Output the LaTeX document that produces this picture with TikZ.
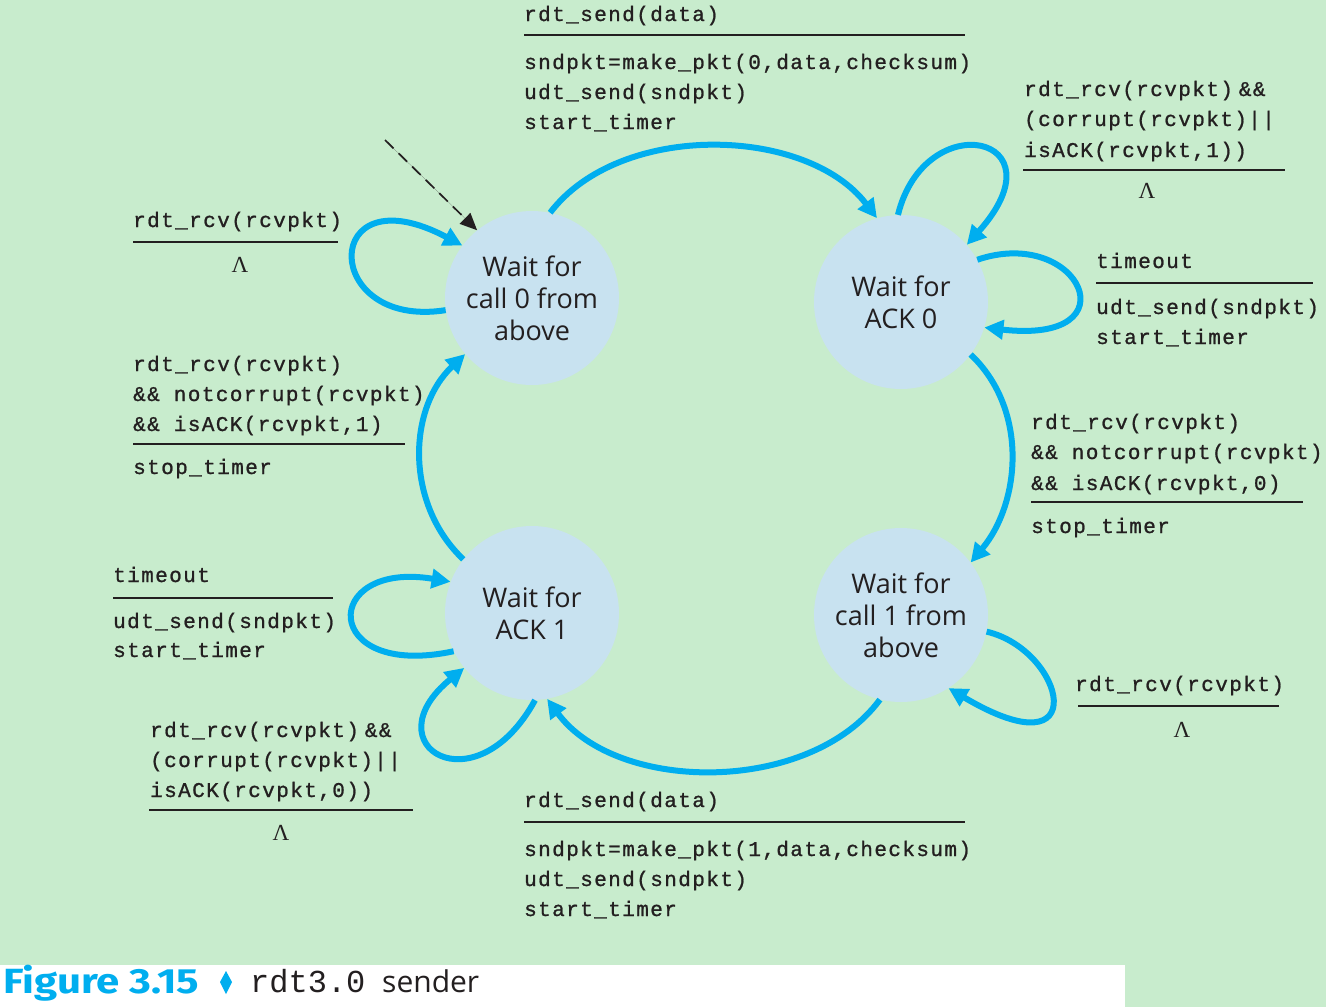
\documentclass[tikz,border=0pt]{standalone}
\usepackage{fontspec}
\setmainfont{Open Sans}
\newfontfamily\cmono[FakeBold=1,LetterSpace=6.7]{Liberation Mono}
\newfontfamily\capmono{Liberation Mono}
\newfontfamily\capsans[FakeStretch=1.2]{Fira Sans}
\newfontfamily\lamfont{Liberation Serif}
\usetikzlibrary{arrows.meta}
\definecolor{bg}{RGB}{200,236,205}
\definecolor{stfill}{RGB}{200,226,240}
\definecolor{arr}{RGB}{0,174,239}
\definecolor{ink}{RGB}{35,31,32}
\tikzset{
  state/.style={circle, fill=stfill, minimum size=174pt, inner sep=0pt, align=center,
    font=\fontsize{27}{32}\selectfont, text=ink},
  mono/.style={anchor=base west, inner sep=0pt, font=\cmono\fontsize{21}{30}\selectfont, text=ink},
  lam/.style={inner sep=0pt, font=\lamfont\fontsize{23}{23}\selectfont, text=ink},
  trans/.style={draw=arr, line width=6pt, -{Triangle[length=19pt,width=19pt]}},
  rulel/.style={draw=ink, line width=2pt},
}
\begin{document}
\begin{tikzpicture}[x=1pt,y=-1pt]
\fill[bg] (0,0) rectangle (1326,1007);
\useasboundingbox (0,0) rectangle (1326,1007);
\fill[white] (0,965) rectangle (1125,1007);

% states
\node[state] (s0) at (532,298) {Wait for\\call 0 from\\above};
\node[state] (a0) at (901,302) {Wait for\\ACK 0};
\node[state] (a1) at (532,613) {Wait for\\ACK 1};
\node[state] (s1) at (901,615) {Wait for\\call 1 from\\above};

% initial arrow
\coordinate (init) at (385,140);
\draw[draw=ink, fill=ink, line width=1.7pt, dash pattern=on 12pt off 7pt,
  -{Triangle[length=17pt,width=15pt]}] (init) -- (s0.129);

% main transitions
\draw[trans] (s0.78) .. controls +(70,-92) and +(-70,-92) .. (a0.106);
\draw[trans] (a0.-37) .. controls +(58,55) and +(50,-60) .. (s1.37);
\draw[trans] (s1.-104) .. controls +(-70,95) and +(70,95) .. (a1.-80);
\draw[trans] (a1.142) .. controls +(-58,-55) and +(-58,55) .. (s0.-140);

% self loops
\draw[trans] (s0.-172) .. controls (320,330) and (320,170) .. (s0.143);
\draw[trans] (a0.92) .. controls (925,105) and (1065,135) .. (a0.41);
\draw[trans] (a0.29) .. controls (1080,225) and (1135,345) .. (a0.-17);
\draw[trans] (a1.-154) .. controls (320,680) and (320,560) .. (a1.159);
\draw[trans] (a1.-88) .. controls (475,810) and (370,745) .. (a1.-141);
\draw[trans] (s1.-11) .. controls (1065,650) and (1095,775) .. (s1.-57);

% top label
\node[mono] (t1) at (524,21) {rdt\_send(data)};
\draw[rulel] (524,35) -- (965,35);
\node[mono] (t2) at (524,69) {sndpkt=make\_pkt(0,data,checksum)};
\node[mono] (t3) at (524,99) {udt\_send(sndpkt)};
\node[mono] (t4) at (524,129) {start\_timer};

% top right label
\node[mono] (tr1) at (1024,96) {rdt\_rcv(rcvpkt)\hspace{6pt}\&\&};
\node[mono] (tr2) at (1024,126) {(corrupt(rcvpkt)||};
\node[mono] (tr3) at (1024,157) {isACK(rcvpkt,1))};
\draw[rulel] (1023,170) -- (1285,170);
\node[lam] (trl) at (1147,191) {Λ};

% top left label
\node[mono] (tl1) at (133,227) {rdt\_rcv(rcvpkt)};
\draw[rulel] (133,242) -- (338,242);
\node[lam] (tll) at (240,265) {Λ};

% left middle label
\node[mono] (lm1) at (133,371) {rdt\_rcv(rcvpkt)};
\node[mono] (lm2) at (133,401) {\&\& notcorrupt(rcvpkt)};
\node[mono] (lm3) at (133,431) {\&\& isACK(rcvpkt,1)};
\draw[rulel] (133,444) -- (405,444);
\node[mono] (lm4) at (133,474) {stop\_timer};

% right timeout label
\node[mono] (rt1) at (1096,268) {timeout};
\draw[rulel] (1096,283) -- (1313,283);
\node[mono] (rt2) at (1096,314) {udt\_send(sndpkt)};
\node[mono] (rt3) at (1096,344) {start\_timer};

% right middle label
\node[mono] (rm1) at (1031,429) {rdt\_rcv(rcvpkt)};
\node[mono] (rm2) at (1031,459) {\&\& notcorrupt(rcvpkt)};
\node[mono] (rm3) at (1031,490) {\&\& isACK(rcvpkt,0)};
\draw[rulel] (1031,502) -- (1303,502);
\node[mono] (rm4) at (1031,533) {stop\_timer};

% left lower timeout
\node[mono] (lt1) at (113,582) {timeout};
\draw[rulel] (113,598) -- (333,598);
\node[mono] (lt2) at (113,628) {udt\_send(sndpkt)};
\node[mono] (lt3) at (113,657) {start\_timer};

% call1 right label
\node[mono] (cr1) at (1075,691) {rdt\_rcv(rcvpkt)};
\draw[rulel] (1078,706) -- (1279,706);
\node[lam] (crl) at (1182,730) {Λ};

% bottom left label
\node[mono] (bl1) at (150,737) {rdt\_rcv(rcvpkt)\hspace{6pt}\&\&};
\node[mono] (bl2) at (150,767) {(corrupt(rcvpkt)||};
\node[mono] (bl3) at (150,797) {isACK(rcvpkt,0))};
\draw[rulel] (149,810) -- (413,810);
\node[lam] (bll) at (281,833) {Λ};

% bottom label
\node[mono] (b1) at (524,807) {rdt\_send(data)};
\draw[rulel] (524,822) -- (965,822);
\node[mono] (b2) at (524,856) {sndpkt=make\_pkt(1,data,checksum)};
\node[mono] (b3) at (524,886) {udt\_send(sndpkt)};
\node[mono] (b4) at (524,916) {start\_timer};

% caption
\node[anchor=base west, inner sep=0pt, text=arr, font=\capsans\bfseries\fontsize{35}{35}\selectfont] (fig) at (3,993) {Figure 3.15};
\fill[arr] (226,971) -- (232,982) -- (226,994) -- (220,982) -- cycle;
\node[anchor=base west, inner sep=0pt, text=ink, font=\capmono\fontsize{32}{32}\selectfont] (cap1) at (250,992) {rdt3.0};
\node[anchor=base west, inner sep=0pt, text=ink, font=\fontsize{30}{30}\selectfont] (cap2) at (382,992) {sender};
\end{tikzpicture}
\end{document}
